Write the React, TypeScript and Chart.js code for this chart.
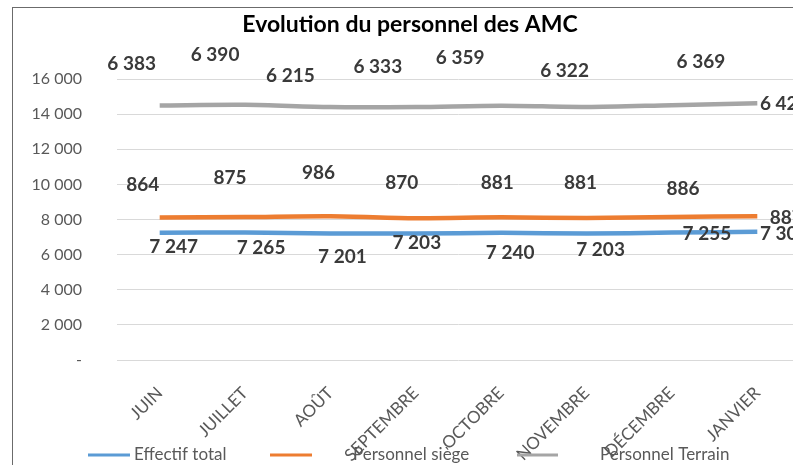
import React, { useEffect, useRef } from 'react';
import { Chart, registerables } from 'chart.js';

Chart.register(...registerables);

const categories = ['JUIN', 'JUILLET', 'AOÛT', 'SEPTEMBRE', 'OCTOBRE', 'NOVEMBRE', 'DÉCEMBRE', 'JANVIER'];
const effectifTotal = [7247, 7265, 7201, 7203, 7240, 7203, 7255, 7305];
const personnelSiege = [864, 875, 986, 870, 881, 881, 886, 887];
const personnelTerrain = [6383, 6390, 6215, 6333, 6359, 6322, 6369, 6424];
const seriesNames = ['Effectif total', 'Personnel siège', 'Personnel Terrain'];
const seriesColors = ['#5b9bd5', '#ed7d31', '#a5a5a5'];
const yMax = 16000;
const yStep = 2000;
const titleText = 'Evolution du personnel des AMC';

// data-label offsets (px) relative to each plotted point
const totalLabelOffsets = [[14, 14], [16, 15], [12, 23], [1, 9], [9, 20], [14, 16], [35, 1], [27, 2]];
const siegeLabelOffsets = [[-17, -33], [-15, -39], [-12, -43], [-14, -35], [-4, -34], [-6, -35], [11, -28], [29, 2]];
const terrainLabelOffsets = [[-28, -42], [-30, -50], [-40, -31], [-38, -40], [-41, -48], [-22, -36], [29, -43], [27, 1]];

const fmt = (v: number) => String(v).replace(/\B(?=(\d{3})+(?!\d))/g, ' ');

const overlayPlugin = {
  id: 'overlay',
  afterDatasetsDraw(chart: any) {
    const ctx = chart.ctx;
    ctx.save();
    const raws = [effectifTotal, personnelSiege, personnelTerrain];
    const offs = [totalLabelOffsets, siegeLabelOffsets, terrainLabelOffsets];
    ctx.font = 'bold 19px Lato';
    ctx.fillStyle = '#3a3a3a';
    ctx.textAlign = 'center';
    ctx.textBaseline = 'middle';
    chart.data.datasets.forEach((_ds: any, i: number) => {
      const meta = chart.getDatasetMeta(i);
      meta.data.forEach((pt: any, j: number) => {
        ctx.fillText(fmt(raws[i][j]), pt.x + offs[i][j][0], pt.y + offs[i][j][1]);
      });
    });
    // title
    ctx.font = 'bold 23px Lato';
    ctx.fillStyle = '#000000';
    ctx.fillText(titleText, 397, 17);
    // legend
    const legendItems = [
      { x0: 75, x1: 117, tx: 121 },
      { x0: 257, x1: 299, tx: 340 },
      { x0: 504, x1: 545, tx: 587 },
    ];
    const ly = 447;
    ctx.font = '17px Lato';
    ctx.textAlign = 'left';
    legendItems.forEach((it, i) => {
      ctx.strokeStyle = seriesColors[i];
      ctx.lineWidth = 3;
      ctx.beginPath();
      ctx.moveTo(it.x0, ly);
      ctx.lineTo(it.x1, ly);
      ctx.stroke();
      ctx.fillStyle = '#595959';
      ctx.fillText(seriesNames[i], it.tx, ly);
    });
    ctx.restore();
  },
};

export default function App() {
  const ref = useRef<HTMLCanvasElement>(null);
  useEffect(() => {
    if (!ref.current) return;
    const values = [effectifTotal, personnelSiege, personnelTerrain];
    const chart = new Chart(ref.current, {
      type: 'line',
      data: {
        labels: categories,
        datasets: values.map((d, i) => ({
          label: seriesNames[i],
          data: d,
          borderColor: seriesColors[i],
          backgroundColor: seriesColors[i],
          borderWidth: 4.5,
          pointRadius: 0,
          tension: 0.3,
          fill: false,
        })),
      },
      options: {
        responsive: false,
        animation: false,
        layout: { padding: { top: 71, right: 43, left: 0, bottom: 0 } },
        plugins: { legend: { display: false }, title: { display: false }, tooltip: { enabled: false } },
        scales: {
          x: {
            offset: true,
            grid: { display: false },
            border: { display: false },
            ticks: {
              maxRotation: 45,
              minRotation: 45,
              color: '#595959',
              font: { family: 'Lato', size: 17 },
              padding: 15,
            },
            afterFit(s: any) { s.height = 118; },
          },
          y: {
            stacked: true,
            min: 0,
            max: yMax,
            ticks: {
              stepSize: yStep,
              callback: (v: any) => (Number(v) === 0 ? '-' : fmt(Number(v))),
              color: '#595959',
              font: { family: 'Lato', size: 16 },
              padding: 35,
            },
            grid: { color: '#d9d9d9', drawTicks: false },
            border: { display: false },
            afterFit(s: any) { s.width = 104; },
          },
        },
      },
      plugins: [overlayPlugin],
    } as any);
    return () => chart.destroy();
  }, []);
  return (
    <div style={{ position: 'fixed', left: 0, top: 0, width: 793, height: 465, overflow: 'hidden', background: '#fff' }}>
      <div style={{ position: 'absolute', left: 12, top: 7, width: 840, height: 480, border: '1px solid #6b6b6b', boxSizing: 'border-box' }}>
        <canvas ref={ref} width={830} height={470} style={{ display: 'block', position: 'absolute', left: 0, top: 0, width: 830, height: 470 }} />
      </div>
    </div>
  );
}
